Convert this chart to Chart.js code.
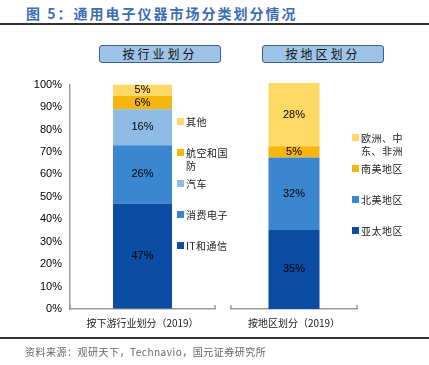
<!DOCTYPE html>
<html>
<head>
<meta charset="utf-8">
<script src="https://cdn.jsdelivr.net/npm/chart.js@4"></script>
<style>
  body { margin: 0; width: 429px; height: 365px; background: #fff; position: relative; overflow: hidden;
         font-family: "Noto Sans CJK SC", sans-serif; }
  .title { position: absolute; left: 26px; top: 3px; font-size: 14px; font-weight: bold; color: #3D6EB4; letter-spacing: 2px; white-space: nowrap; }
  .rule { position: absolute; left: 0; width: 429px; height: 2px; background: #333; }
  .head { position: absolute; top: 45px; height: 16px; width: 120px; background: #9DC3E6; border: 1px solid #3F5F92;
          border-radius: 3px; text-align: center; font-size: 12px; line-height: 16px; letter-spacing: 3px; color: #111; }
  canvas { position: absolute; }
  .legend { position: absolute; font-size: 10px; color: #222; }
  .legend .item { height: 31px; display: flex; align-items: flex-start; }
  .legend .box { width: 7px; height: 7px; margin-top: 3px; margin-right: 2px; flex: none; }
  .legend .txt { width: 44px; line-height: 13px; letter-spacing: 0.5px; }
  .source { position: absolute; left: 25px; top: 344px; font-size: 10px; color: #666; letter-spacing: 0.5px; white-space: nowrap; }
</style>
</head>
<body>
<div class="title">图 5：通用电子仪器市场分类划分情况</div>
<div class="rule" style="top:23px"></div>
<div class="head" style="left:99px">按行业划分</div>
<div class="head" style="left:262px">按地区划分</div>
<canvas id="industryChart" width="230" height="270" style="left:0;top:70px"></canvas>
<canvas id="regionChart" width="140" height="270" style="left:225px;top:70px"></canvas>
<div class="legend" id="industryLegend" style="left:177px;top:115px"></div>
<div class="legend" id="regionLegend" style="left:352px;top:131px"></div>
<div class="rule" style="top:337px"></div>
<div class="source">资料来源：观研天下，Technavio，国元证券研究所</div>

<script>
// Data (bottom to top of each stack)
const industryCategory = ["按下游行业划分（2019）"];
const industryLabels = ["IT和通信", "消费电子", "汽车", "航空和国防", "其他"];
const industryValues = [47, 26, 16, 6, 5];
const industryColors = ["#0B4DA2", "#3A87D0", "#8FBCE6", "#F6B60E", "#FFD966"];

const regionCategory = ["按地区划分（2019）"];
const regionLabels = ["亚太地区", "北美地区", "南美地区", "欧洲、中东、非洲"];
const regionValues = [35, 32, 5, 28];
const regionColors = ["#0B4DA2", "#3A87D0", "#F6B60E", "#FFD966"];

const yMax = 100;
const yStep = 10;

const numFont = "Liberation Sans, Arial, sans-serif";
const cjkFont = "Noto Sans CJK SC, sans-serif";
const axisColor = "#999";

// Writes the percentage in the middle of every segment
const segmentLabels = {
  id: "segmentLabels",
  afterDatasetsDraw(chart) {
    const ctx = chart.ctx;
    ctx.save();
    ctx.font = "11px " + numFont;
    ctx.fillStyle = "#000";
    ctx.textAlign = "center";
    ctx.textBaseline = "middle";
    chart.data.datasets.forEach((ds, i) => {
      chart.getDatasetMeta(i).data.forEach((bar, j) => {
        const p = bar.getProps(["x", "y", "base"], true);
        ctx.fillText(ds.data[j] + "%", p.x, (p.y + p.base) / 2);
      });
    });
    ctx.restore();
  },
};

// Small upward ticks at both ends of the category axis
const endTicks = {
  id: "endTicks",
  afterDraw(chart) {
    const { ctx, chartArea } = chart;
    ctx.save();
    ctx.strokeStyle = axisColor;
    ctx.lineWidth = 1.5;
    [chartArea.left, chartArea.right].forEach((x) => {
      ctx.beginPath();
      ctx.moveTo(x, chartArea.bottom);
      ctx.lineTo(x, chartArea.bottom - 4);
      ctx.stroke();
    });
    ctx.restore();
  },
};

function makeStack(canvasId, category, labels, values, colors, barPct, showY, padding) {
  const datasets = labels.map((label, i) => ({
    label: label,
    data: [values[i]],
    backgroundColor: colors[i],
    borderWidth: 0,
    categoryPercentage: 1,
    barPercentage: barPct,
  }));

  const yScale = {
    stacked: true,
    display: showY,
    min: 0,
    max: yMax,
    grid: { drawOnChartArea: false, drawTicks: false },
    border: { display: true, color: axisColor, width: 1.5 },
    ticks: {
      stepSize: yStep,
      padding: 8,
      color: "#000",
      font: { family: numFont, size: 11 },
      callback: (v) => v + "%",
    },
  };
  if (showY) yScale.afterFit = (s) => { s.width = 70; };

  return new Chart(document.getElementById(canvasId), {
    type: "bar",
    data: { labels: category, datasets: datasets },
    plugins: [segmentLabels, endTicks],
    options: {
      responsive: false,
      animation: false,
      layout: { padding: padding },
      plugins: { legend: { display: false }, tooltip: { enabled: false } },
      scales: {
        x: {
          stacked: true,
          grid: { drawOnChartArea: false, drawTicks: false },
          border: { display: true, color: axisColor, width: 1.5 },
          ticks: { color: "#222", padding: 8, font: { family: cjkFont, size: 10 } },
          afterFit: (s) => { s.height = 25; },
        },
        y: yScale,
      },
    },
  });
}

// Legends are listed top-down, i.e. reversed stack order
function buildLegend(elId, labels, colors) {
  const el = document.getElementById(elId);
  for (let i = labels.length - 1; i >= 0; i--) {
    const item = document.createElement("div");
    item.className = "item";
    item.innerHTML = '<span class="box" style="background:' + colors[i] + '"></span><span class="txt">' + labels[i] + "</span>";
    el.appendChild(item);
  }
}

makeStack("industryChart", industryCategory, industryLabels, industryValues, industryColors, 0.407, true,
  { top: 13, right: 15, bottom: 6, left: 0 });
makeStack("regionChart", regionCategory, regionLabels, regionValues, regionColors, 0.405, false,
  { top: 13, right: 8, bottom: 6, left: 6 });

buildLegend("industryLegend", industryLabels, industryColors);
buildLegend("regionLegend", regionLabels, regionColors);
</script>
</body>
</html>
